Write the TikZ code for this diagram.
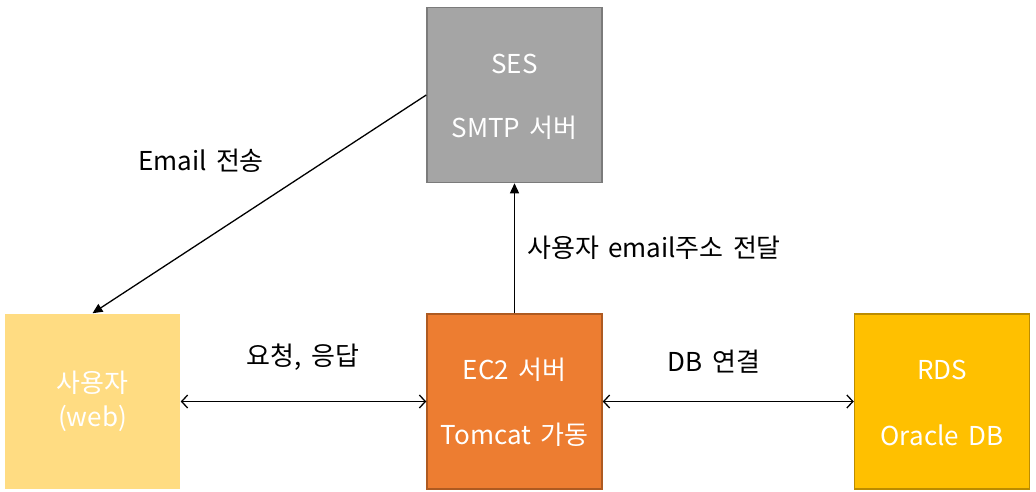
\documentclass[tikz,border=0pt]{standalone}
\usepackage{fontspec}
\setmainfont[WordSpace=1.6]{Noto Sans CJK KR}
\usetikzlibrary{arrows.meta}
\definecolor{userfill}{HTML}{FFDC82}
\definecolor{ecfill}{HTML}{ED7D31}
\definecolor{ecdraw}{HTML}{AE5A21}
\definecolor{rdsfill}{HTML}{FFC000}
\definecolor{rdsdraw}{HTML}{BC8C00}
\definecolor{sesfill}{HTML}{A5A5A5}
\definecolor{sesdraw}{HTML}{7B7B7B}
\tikzset{
  box/.style={minimum width=175pt, minimum height=175pt, inner sep=0pt, line width=1.5pt, text=white, font=\fontsize{26}{30}\selectfont},
  btxt/.style={inner sep=0pt, text=white, font=\fontsize{26}{30}\selectfont},
  lbl/.style={font=\fontsize{26}{30}\selectfont, text=black, inner sep=0pt},
  conn/.style={line width=1.3pt},
  both/.style={conn, {Straight Barb[length=6pt,width=13pt]}-{Straight Barb[length=6pt,width=13pt]}},
  filled/.style={conn, -{Triangle[length=10pt,width=9pt]}}
}
\begin{document}
\begin{tikzpicture}[x=1pt,y=-1pt]
\useasboundingbox (0,0) rectangle (1036,492);
\node[box, fill=userfill] (user) at (92.5,401.5) {};
\node[box, fill=ecfill, draw=ecdraw] (ec2) at (514.5,401.5) {};
\node[box, fill=rdsfill, draw=rdsdraw] (rds) at (942,401.5) {};
\node[box, fill=sesfill, draw=sesdraw] (ses) at (514.5,95) {};
% box texts
\node[btxt] (t1) at (92.5,383) {사용자};
\node[btxt] (t2) at (92.5,418) {(web)};
\node[btxt] (t3) at (514.5,370) {EC2 서버};
\node[btxt] (t4) at (514.5,435) {Tomcat 가동};
\node[btxt] (t5) at (942,370) {RDS};
\node[btxt] (t6) at (942,435) {Oracle DB};
\node[btxt] (t7) at (514.5,64) {SES};
\node[btxt] (t8) at (514.5,128) {SMTP 서버};
% labels
\node[lbl] (l1) at (201,161) {Email 전송};
\node[lbl, anchor=west] (l2) at (527,248) {사용자 email주소 전달};
\node[lbl] (l3) at (303,357) {요청, 응답};
\node[lbl] (l4) at (714,362) {DB 연결};
% connectors
\draw[filled] (ses.west) -- (user.north);
\draw[filled] (ec2.north) -- (ses.south);
\draw[both] (user.east) -- (ec2.west);
\draw[both] (ec2.east) -- (rds.west);
\end{tikzpicture}
\end{document}
